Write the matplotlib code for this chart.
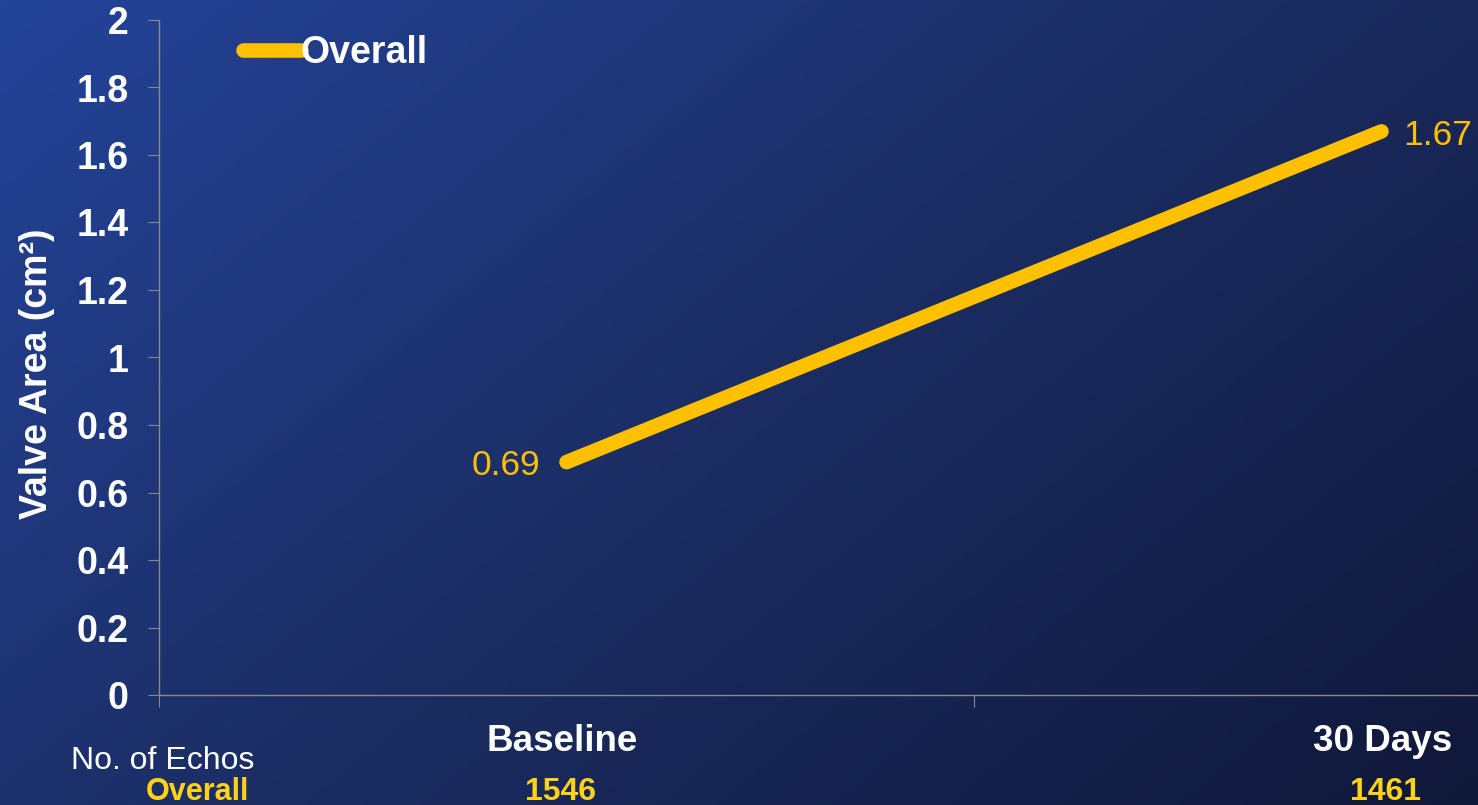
import numpy as np
import matplotlib
matplotlib.use('Agg')
from matplotlib import pyplot as plt
from matplotlib.colors import LinearSegmentedColormap

# chart data
categories = ['Baseline', '30 Days']
valve_area = [0.69, 1.67]
echo_counts = ['1546', '1461']
series_name = 'Overall'
y_ticks = [0, 0.2, 0.4, 0.6, 0.8, 1, 1.2, 1.4, 1.6, 1.8, 2]

GOLD = '#FFC000'
GOLD_TXT = '#FFD21A'
SPINE = '#8a8a8a'

plt.rcParams['font.family'] = ['Liberation Sans', 'DejaVu Sans']

fig = plt.figure(figsize=(14.78, 8.05), dpi=100)

# diagonal background gradient
bg = fig.add_axes([0, 0, 1, 1], zorder=-10)
gx, gy = np.meshgrid(np.linspace(0, 1, 400), np.linspace(0, 1, 220))
grad = 0.6 * gx + 0.4 * gy
cmap = LinearSegmentedColormap.from_list('bg', ['#24449a', '#1b2d63', '#10183a'])
bg.imshow(grad, cmap=cmap, aspect='auto', extent=[0, 1, 0, 1], origin='upper')
bg.axis('off')

ax = fig.add_axes([159 / 1478, 110 / 805, 1 - 159 / 1478, 675 / 805])
ax.patch.set_alpha(0)

x = np.arange(len(categories)) + 0.5
ax.plot(x, valve_area, color=GOLD, lw=10.5, solid_capstyle='round',
        marker='d', markersize=4, label=series_name, clip_on=False)

ax.annotate(f'{valve_area[0]:.2f}', (x[0], valve_area[0]), xytext=(-26, -3),
            textcoords='offset pixels', color=GOLD, fontsize=25.5,
            ha='right', va='center')
ax.annotate(f'{valve_area[1]:.2f}', (x[1], valve_area[1]), xytext=(22, -4),
            textcoords='offset pixels', color=GOLD, fontsize=25.5,
            ha='left', va='center')

ax.set_xlim(0, (1478 - 159) / 815)
ax.set_ylim(0, 2)
ax.set_yticks(y_ticks)
ax.set_yticklabels([f'{v:g}' for v in y_ticks], color='white', fontsize=27,
                   fontweight='bold')
ax.set_xticks([0, 1])
ax.set_xticklabels([])
ax.tick_params(axis='y', length=8, color=SPINE, pad=14)
ax.tick_params(axis='x', length=8.6, color=SPINE)
for s in ['top', 'right']:
    ax.spines[s].set_visible(False)
for s in ['left', 'bottom']:
    ax.spines[s].set_color(SPINE)
    ax.spines[s].set_linewidth(1)

ax.set_ylabel('Valve Area (cm²)', color='white', fontsize=27,
              fontweight='bold')
ax.yaxis.set_label_coords(-0.0785, 0.476)

# category names and echo counts under the axis
name_shift = [-4, 1]
count_shift = [-6, 4]
for xi, cat, n, d1, d2 in zip(x, categories, echo_counts, name_shift, count_shift):
    ax.annotate(cat, (xi, 0), xycoords=('data', 'axes fraction'),
                xytext=(d1, -46), textcoords='offset pixels', ha='center',
                va='center', color='white', fontsize=26.5, fontweight='bold')
    ax.annotate(n, (xi, 0), xycoords=('data', 'axes fraction'),
                xytext=(d2, -97), textcoords='offset pixels', ha='center',
                va='center', color=GOLD_TXT, fontsize=23, fontweight='bold')

fig.text(163 / 1478, 1 - 761 / 805, 'No. of Echos', color='white',
         fontsize=23, ha='center', va='center')
fig.text(197 / 1478, 1 - 792 / 805, series_name, color=GOLD_TXT,
         fontsize=22, fontweight='bold', ha='center', va='center')

leg = ax.legend(loc='upper left', bbox_to_anchor=(0.052, 1.0), frameon=False,
                handlelength=1.55, handletextpad=0.0, borderaxespad=0,
                prop={'size': 27, 'weight': 'bold'})
for t in leg.get_texts():
    t.set_color('white')

fig.savefig('out.png', dpi=100)
